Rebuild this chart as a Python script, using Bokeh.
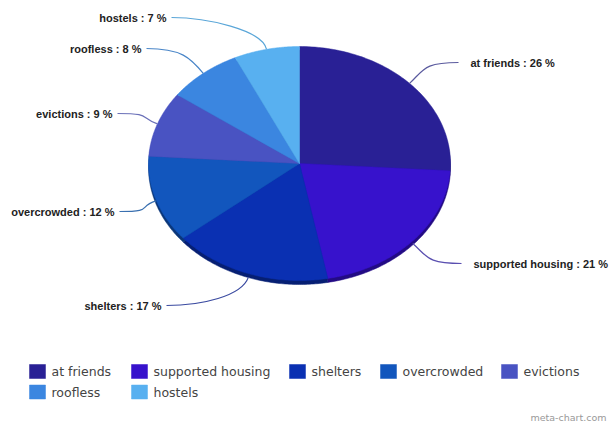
import numpy as np
from bokeh.plotting import figure
from bokeh.models import Range1d, ColumnDataSource
from bokeh.embed import file_html
from bokeh.resources import INLINE
from bokeh.core.properties import value

# ---- data ----
categories = ["at friends", "supported housing", "shelters", "overcrowded",
              "evictions", "roofless", "hostels"]
percent = [26, 21, 17, 12, 9, 8, 7]
colors = ["#292095", "#3712cc", "#0a30b2", "#1256bd", "#4953c2", "#3b86e0", "#58b0f0"]
line_colors = ["#5a5a9e", "#5a4fb0", "#3a4aa0", "#3a70b0", "#6a70b8", "#4a86c8", "#5aa6d8"]

# ---- layout ----
W, H = 613, 423
cx, cy, rx, ry, depth = 299, 163, 151, 117, 4
# label anchor (end of leader line) and side
label_pos = [(458, 62, "left"), (461, 263, "left"), (166, 305, "right"),
             (119, 211, "right"), (117, 113, "right"), (146, 48, "right"),
             (171, 17, "right")]
legend_x = [29, 131, 289, 380, 501, 29, 131]
legend_y = [371, 371, 371, 371, 371, 391.5, 391.5]

p = figure(width=W, height=H, x_range=Range1d(0, W), y_range=Range1d(H, 0),
           output_backend="svg", toolbar_location=None, min_border=0,
           x_axis_location=None, y_axis_location=None)
p.grid.visible = False
p.outline_line_color = None
p.background_fill_color = "white"
p.border_fill_color = "white"


def darker(hexc, f=0.7):
    r, g, b = int(hexc[1:3], 16), int(hexc[3:5], 16), int(hexc[5:7], 16)
    return "#%02x%02x%02x" % (int(r * f), int(g * f), int(b * f))


total = float(sum(percent))
bounds = np.concatenate([[0], np.cumsum(percent)]) / total * 2 * np.pi

face_xs, face_ys, rim_xs, rim_ys = [], [], [], []
for i in range(len(percent)):
    t = np.linspace(bounds[i], bounds[i + 1], 80)
    xs = np.concatenate([[cx], cx + rx * np.sin(t)])
    ys = np.concatenate([[cy], cy - ry * np.cos(t)])
    face_xs.append(list(xs))
    face_ys.append(list(ys))
    rim_xs.append(list(xs))
    rim_ys.append(list(ys + depth))

p.patches(rim_xs, rim_ys, fill_color=[darker(c, 0.65) for c in colors],
          line_color=[darker(c, 0.65) for c in colors], line_width=0.5)
p.patches(face_xs, face_ys, fill_color=colors, line_color=colors, line_width=0.5)

# leader lines & labels
mids = (bounds[:-1] + bounds[1:]) / 2
bx0, by0, bx1, by1, bc0x, bc0y, bc1x, bc1y = [], [], [], [], [], [], [], []
tx, ty, tt, talign = [], [], [], []
for i, m in enumerate(mids):
    ax = cx + rx * np.sin(m)
    ay = cy - ry * np.cos(m) + depth * max(0.0, -np.cos(m))
    ex, ey, side = label_pos[i]
    sgn = 1 if side == "left" else -1
    bx0.append(ax); by0.append(ay)
    bc0x.append(ax + 20 * np.sin(m)); bc0y.append(ay - 20 * np.cos(m))
    bc1x.append(ex - sgn * 35); bc1y.append(ey)
    bx1.append(ex); by1.append(ey)
    tx.append(ex + sgn * 12 if side == "left" else ex - 5)
    ty.append(ey)
    tt.append(f"{categories[i]} : {percent[i]} %")
    talign.append(side)

p.bezier(x0=bx0, y0=by0, x1=bx1, y1=by1, cx0=bc0x, cy0=bc0y, cx1=bc1x, cy1=bc1y,
         line_color=line_colors, line_width=1.2)
p.text(x=tx, y=ty, text=tt, text_align=talign, text_baseline="middle",
       text_font=value("Liberation Sans"), text_font_style="bold",
       text_font_size="11px", text_color="#222222")

# legend
lsrc = ColumnDataSource(dict(
    left=legend_x, right=[x + 16 for x in legend_x],
    top=[y - 7 for y in legend_y], bottom=[y + 7 for y in legend_y],
    tx=[x + 22 for x in legend_x], ty=legend_y, text=categories, color=colors))
p.quad(left="left", right="right", top="top", bottom="bottom", source=lsrc,
       fill_color="color", line_color="color", line_width=0.5)
p.text(x="tx", y="ty", text="text", source=lsrc, text_baseline="middle",
       text_font=value("DejaVu Sans"), text_font_size="12.5px", text_color="#444444")

p.text(x=[606], y=[417], text=["meta-chart.com"], text_align="right",
       text_baseline="middle", text_font=value("DejaVu Sans"),
       text_font_size="9.5px", text_color="#999999")

open("out.html", "w").write(file_html(p, INLINE))
